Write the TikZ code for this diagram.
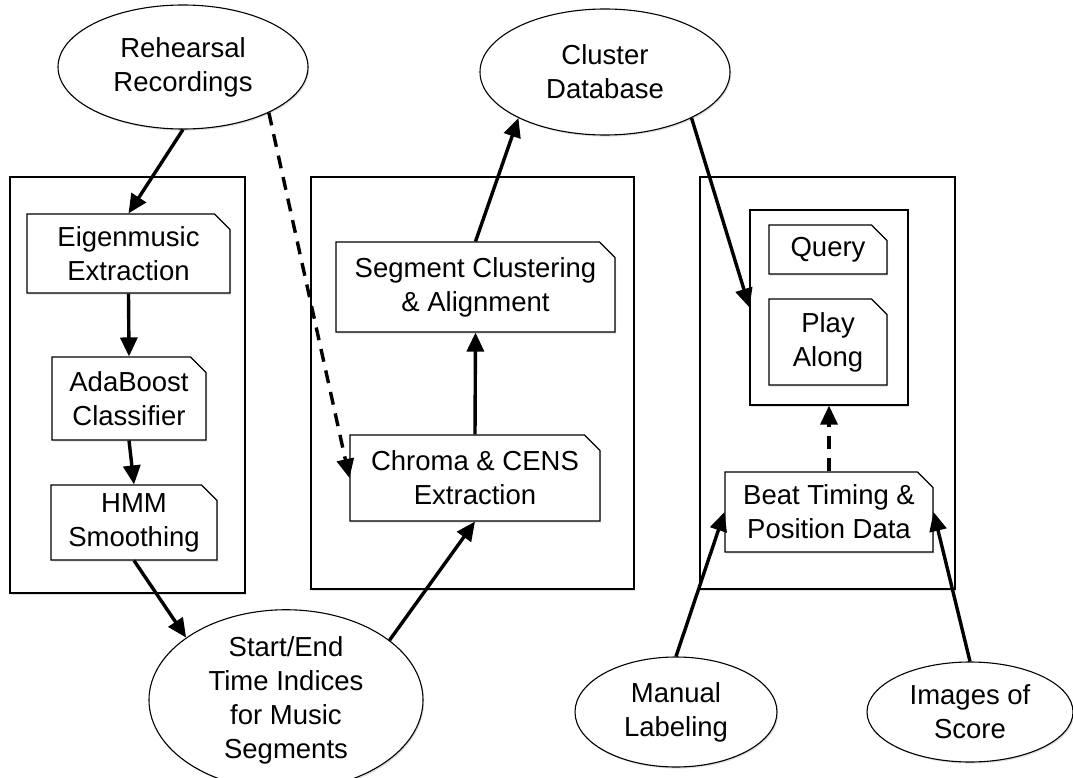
\documentclass[tikz,border=0pt]{standalone}
\usepackage{fontspec}
\setmainfont{Liberation Sans}
\usetikzlibrary{arrows.meta,shapes.geometric,shapes.misc,shadows}

\begin{document}
\begin{tikzpicture}[x=1pt,y=-1pt,
  every node/.style={font=\fontsize{27.5}{34}\selectfont, align=center, inner sep=0pt, text=black},
  soft/.style={drop shadow={shadow xshift=1.2pt,shadow yshift=-1.6pt,opacity=0.25}},
  source/.style={ellipse, draw, line width=1.1pt, fill=white, soft},
  proc/.style={chamfered rectangle, chamfered rectangle corners=north east,
    chamfered rectangle xsep=12pt, draw, line width=1.1pt, fill=white, soft},
  frame/.style={rectangle, draw, line width=1.1pt, fill=white, soft},
  flow/.style={line width=3.4pt, -{Triangle[length=19pt,width=17pt]}},
  weak/.style={flow, dash pattern=on 13pt off 9pt}]

\useasboundingbox (0,0) rectangle (1073,778);

% stage frames
\node[frame, minimum width=235pt, minimum height=416pt] (fleft)  at (127.5,385) {};
\node[frame, minimum width=323pt, minimum height=412pt] (fmid)   at (472.5,383) {};
\node[frame, minimum width=255pt, minimum height=412pt] (fright) at (827.5,383) {};
\node[frame, minimum width=158pt, minimum height=195pt] (app)    at (829,307.5) {};

% data sources
\node[source, minimum width=250pt, minimum height=124pt] (reh) at (183,67) {Rehearsal\\Recordings};
\node[source, minimum width=250pt, minimum height=126pt] (clu) at (605,72) {Cluster\\Database};
\node[source, minimum width=274pt, minimum height=156pt] (se)  at (286,700) {Start/End\\Time Indices\\for Music\\Segments};
\node[source, minimum width=202pt, minimum height=110pt] (man) at (676,712) {Manual\\Labeling};
\node[source, minimum width=206pt, minimum height=100pt] (img) at (970,712) {Images of\\Score};

% processing steps
\node[proc, minimum width=203pt, minimum height=79pt] (eig) at (128.5,253.5) {Eigenmusic\\Extraction};
\node[proc, minimum width=154pt, minimum height=83pt] (ada) at (129,398.5) {AdaBoost\\Classifier};
\node[proc, minimum width=166pt, minimum height=75pt] (hmm) at (134,522.5) {HMM\\Smoothing};
\node[proc, minimum width=279pt, minimum height=90pt] (seg) at (475.5,287) {Segment Clustering\\\& Alignment};
\node[proc, minimum width=250pt, minimum height=86pt] (chr) at (475,478) {Chroma \& CENS\\Extraction};
\node[proc, minimum width=118pt, minimum height=49pt] (qry) at (828,249.5) {Query};
\node[proc, minimum width=118pt, minimum height=86pt] (ply) at (828,342) {Play\\Along};
\node[proc, minimum width=208pt, minimum height=80pt] (bt)  at (829,512) {Beat Timing \&\\Position Data};

% connectors
\draw[flow] (reh.south) -- (eig.north);
\draw[flow] (eig.south) -- (ada.north);
\draw[flow] (ada.south) -- (hmm.north);
\draw[flow] (hmm.south) -- (se.148.9);
\draw[flow] (se.30.9) -- (chr.south);
\draw[flow] (chr.north) -- (seg.south);
\draw[flow] (seg.north) -- (clu.208.9);
\draw[weak] (reh.332.1) -- (chr.west);
\draw[flow] (clu.332.9) -- (app.west);
\draw[weak] (bt.north) -- (app.south);
\draw[flow] (man.north) -- (bt.west);
\draw[flow] (img.north) -- (bt.east);
\end{tikzpicture}
\end{document}
